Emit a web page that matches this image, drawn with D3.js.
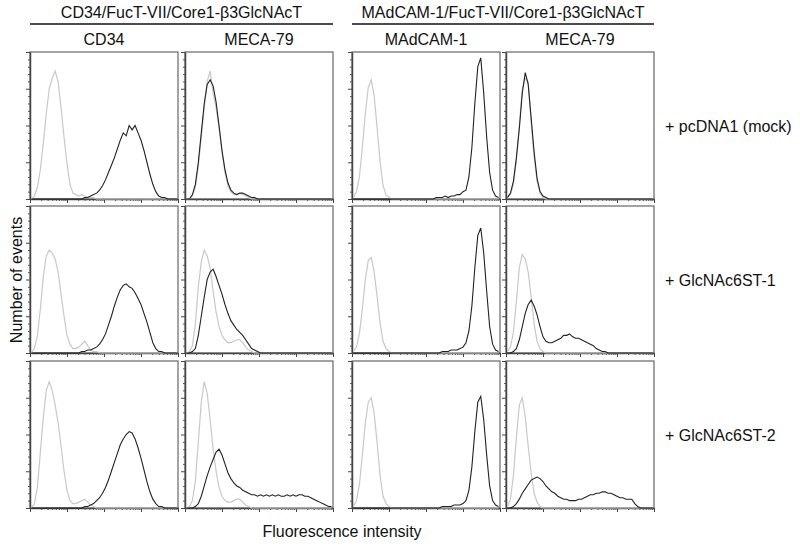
<!DOCTYPE html>
<html>
<head>
<meta charset="utf-8">
<script src="https://cdn.jsdelivr.net/npm/d3@7"></script>
<style>
body { margin: 0; background: #fff; }
text { font-family: "Liberation Sans", Arial, sans-serif; fill: #111; }
</style>
</head>
<body>
<div id="chart"></div>
<script>
var width = 800;
var height = 546;

// labels
var groups = ["CD34/FucT-VII/Core1-β3GlcNAcT", "MAdCAM-1/FucT-VII/Core1-β3GlcNAcT"];
var antibodies = ["CD34", "MECA-79", "MAdCAM-1", "MECA-79"];
var transfections = ["+ pcDNA1 (mock)", "+ GlcNAc6ST-1", "+ GlcNAc6ST-2"];
var yLabel = "Number of events";
var xLabel = "Fluorescence intensity";

// y ticks (percent of max count), x decades
var yMajor = [0, 25, 50, 75, 100];
var decades = [1, 10, 100, 1000, 10000];

// histograms: 50 channels over 4 log decades, % of panel height
// row 1: pcDNA1 (mock)
var ctrl_mock_cd34 = [0,2,8,20,38,58,75,82,87,80,62,42,24,10,4,3,2,3,2,1,1,1,0,0,0,0,0,0,0,0,0,0,0,0,0,0,0,0,0,0,0,0,0,0,0,0,0,0,0,0];
var stain_mock_cd34 = [0,0,0,0,0,0,0,0,0,0,0,0,0,0,0,0,0,0,1,1,2,3,4,6,9,13,18,23,28,34,40,45,43,50,47,50,45,40,33,25,17,10,5,2,1,1,0,0,0,0];
var ctrl_mock_meca1 = [0,0,2,8,22,42,62,80,87,72,62,48,32,18,9,5,3,3,4,3,2,1,0,0,0,0,0,0,0,0,0,0,0,0,0,0,0,0,0,0,0,0,0,0,0,0,0,0,0,0];
var stain_mock_meca1 = [0,0,3,10,25,45,65,78,81,77,66,50,33,20,11,6,4,3,4,4,3,2,1,1,0,0,0,0,0,0,0,0,0,0,0,0,0,0,0,0,0,0,0,0,0,0,0,0,0,0];
var ctrl_mock_madcam = [1,5,15,35,58,76,81,70,48,25,9,3,1,0,0,0,0,0,0,0,0,0,0,0,0,0,0,0,0,0,0,0,0,0,0,0,0,0,0,0,0,0,0,0,0,0,0,0,0,0];
var stain_mock_madcam = [0,0,0,0,0,0,0,0,0,0,0,0,0,0,0,0,0,0,0,0,0,0,0,0,0,0,0,0,1,1,1,2,1,2,2,3,3,5,6,15,35,65,90,96,72,42,18,6,2,1];
var ctrl_mock_meca2 = [1,3,10,26,50,75,82,80,52,28,12,4,1,0,0,0,0,0,0,0,0,0,0,0,0,0,0,0,0,0,0,0,0,0,0,0,0,0,0,0,0,0,0,0,0,0,0,0,0,0];
var stain_mock_meca2 = [1,4,12,28,48,72,86,78,55,32,14,5,2,1,0,0,0,0,0,0,0,0,0,0,0,0,0,0,0,0,0,0,0,0,0,0,0,0,0,0,0,0,0,0,0,0,0,0,0,0];
// row 2: GlcNAc6ST-1
var ctrl_st1_cd34 = [0,3,12,30,52,66,70,68,64,55,40,25,12,6,3,3,4,6,8,5,2,1,1,0,0,0,0,0,0,0,0,0,0,0,0,0,0,0,0,0,0,0,0,0,0,0,0,0,0,0];
var stain_st1_cd34 = [0,0,0,0,0,0,0,0,0,0,0,0,0,0,0,0,0,1,1,2,2,3,4,6,9,13,19,25,32,38,43,46,47,45,44,41,37,33,27,21,14,7,3,1,1,0,0,0,0,0];
var ctrl_st1_meca1 = [0,1,5,20,45,62,70,66,58,42,28,18,12,9,7,7,8,9,9,7,4,2,1,0,0,0,0,0,0,0,0,0,0,0,0,0,0,0,0,0,0,0,0,0,0,0,0,0,0,0];
var stain_st1_meca1 = [0,0,1,3,12,25,38,50,55,57,52,46,40,33,27,22,19,16,14,12,9,6,3,2,1,0,0,0,0,0,0,0,0,0,0,0,0,0,0,0,0,0,0,0,0,0,0,0,0,0];
var ctrl_st1_madcam = [1,4,13,30,50,63,65,55,38,20,8,3,1,0,0,0,0,0,0,0,0,0,0,0,0,0,0,0,0,0,0,0,0,0,0,0,0,0,0,0,0,0,0,0,0,0,0,0,0,0];
var stain_st1_madcam = [0,0,0,0,0,0,0,0,0,0,0,0,0,0,0,0,0,0,0,0,0,0,0,0,0,0,0,0,0,0,1,1,1,2,2,2,3,4,7,15,32,58,80,85,68,42,18,6,2,1];
var ctrl_st1_meca2 = [1,4,14,35,58,67,64,55,38,20,8,3,1,0,0,0,0,0,0,0,0,0,0,0,0,0,0,0,0,0,0,0,0,0,0,0,0,0,0,0,0,0,0,0,0,0,0,0,0,0];
var stain_st1_meca2 = [0,0,1,3,9,18,27,33,36,32,26,18,11,8,7,7,8,9,10,12,12,13,11,10,10,9,8,7,6,5,3,2,1,1,0,0,0,0,0,0,0,0,0,0,0,0,0,0,0,0];
// row 3: GlcNAc6ST-2
var ctrl_st2_cd34 = [0,3,14,38,62,80,86,80,70,58,42,25,12,5,3,3,4,5,6,4,2,1,0,0,0,0,0,0,0,0,0,0,0,0,0,0,0,0,0,0,0,0,0,0,0,0,0,0,0,0];
var stain_st2_cd34 = [0,0,0,0,0,0,0,0,0,0,0,0,0,0,0,0,0,0,1,1,2,3,5,7,10,14,19,25,31,37,43,47,50,52,51,47,41,34,26,18,11,6,3,1,1,0,0,0,0,0];
var ctrl_st2_meca1 = [0,1,5,18,45,72,86,78,60,40,25,14,8,5,4,4,5,6,6,4,2,1,0,0,0,0,0,0,0,0,0,0,0,0,0,0,0,0,0,0,0,0,0,0,0,0,0,0,0,0];
var stain_st2_meca1 = [0,0,0,1,3,8,15,22,28,33,38,40,36,30,24,20,17,15,14,12,11,10,9,9,8,9,8,9,8,9,8,9,8,8,9,8,9,8,9,9,8,8,7,6,5,4,3,2,1,1];
var ctrl_st2_madcam = [1,5,16,36,58,72,75,64,44,22,8,3,1,0,0,0,0,0,0,0,0,0,0,0,0,0,0,0,0,0,0,0,0,0,0,0,0,0,0,0,0,0,0,0,0,0,0,0,0,0];
var stain_st2_madcam = [0,0,0,0,0,0,0,0,0,0,0,0,0,0,0,0,0,0,0,0,0,0,0,0,0,0,0,0,0,0,1,1,1,1,2,2,2,3,5,12,28,52,72,76,60,36,15,5,2,1];
var ctrl_st2_meca2 = [1,6,22,48,70,75,62,42,24,10,4,1,0,0,0,0,0,0,0,0,0,0,0,0,0,0,0,0,0,0,0,0,0,0,0,0,0,0,0,0,0,0,0,0,0,0,0,0,0,0];
var stain_st2_meca2 = [0,0,1,3,6,10,13,16,19,20,21,20,18,15,13,11,10,8,7,6,6,5,5,5,6,6,7,8,9,9,10,10,11,11,10,10,9,8,7,7,6,6,6,3,1,0,0,0,0,0];

var panels = [
    [[ctrl_mock_cd34, stain_mock_cd34], [ctrl_mock_meca1, stain_mock_meca1], [ctrl_mock_madcam, stain_mock_madcam], [ctrl_mock_meca2, stain_mock_meca2]],
    [[ctrl_st1_cd34, stain_st1_cd34], [ctrl_st1_meca1, stain_st1_meca1], [ctrl_st1_madcam, stain_st1_madcam], [ctrl_st1_meca2, stain_st1_meca2]],
    [[ctrl_st2_cd34, stain_st2_cd34], [ctrl_st2_meca1, stain_st2_meca1], [ctrl_st2_madcam, stain_st2_madcam], [ctrl_st2_meca2, stain_st2_meca2]]
];

var colX = [30, 185, 352, 506];
var rowY = [52, 206, 361];
var pw = 148, ph = 147;

var svg = d3.select("#chart")
    .append("svg")
    .attr("width", width)
    .attr("height", height);

var x = d3.scaleLog().domain([1, 10000]).range([0, pw]);
var y = d3.scaleLinear().domain([0, 100]).range([ph, 0]);

var nBins = 50;
function binValue(i){ return Math.pow(10, 4 * (i + 0.5) / nBins); }

var line = d3.line()
    .x(function(d, i){ return x(binValue(i)); })
    .y(function(d){ return y(d); });

// minor x ticks 2..9 per decade
var xMinor = [];
decades.slice(0, 4).forEach(function(d){
    for (var k = 2; k < 10; k++) xMinor.push(d * k);
});
var yMinor = d3.range(0, 101, 5).filter(function(v){ return yMajor.indexOf(v) < 0; });

// group headers
[[0, 1], [2, 3]].forEach(function(pair, gi){
    var x0 = colX[pair[0]], x1 = colX[pair[1]] + pw;
    svg.append("text")
        .attr("x", (x0 + x1) / 2)
        .attr("y", 18)
        .attr("text-anchor", "middle")
        .style("font-size", "16px")
        .text(groups[gi]);
    svg.append("line")
        .attr("x1", x0).attr("x2", x1)
        .attr("y1", 24).attr("y2", 24)
        .attr("stroke", "#111")
        .attr("stroke-width", 1.5);
});

antibodies.forEach(function(a, ci){
    svg.append("text")
        .attr("x", colX[ci] + pw / 2)
        .attr("y", 45)
        .attr("text-anchor", "middle")
        .style("font-size", "16px")
        .text(a);
});

transfections.forEach(function(t, ri){
    svg.append("text")
        .attr("x", 665)
        .attr("y", rowY[ri] + ph / 2 + 6)
        .style("font-size", "16px")
        .text(t);
});

svg.append("text")
    .attr("transform", "translate(22," + (rowY[0] + (rowY[2] + ph - rowY[0]) / 2) + ") rotate(-90)")
    .attr("text-anchor", "middle")
    .style("font-size", "16px")
    .text(yLabel);

svg.append("text")
    .attr("x", (colX[0] + colX[3] + pw) / 2)
    .attr("y", 537)
    .attr("text-anchor", "middle")
    .style("font-size", "16px")
    .text(xLabel);

panels.forEach(function(row, ri){
    row.forEach(function(pair, ci){
        var g = svg.append("g")
            .attr("transform", "translate(" + colX[ci] + "," + rowY[ri] + ")");

        g.append("rect")
            .attr("width", pw).attr("height", ph)
            .attr("fill", "none")
            .attr("stroke", "#666")
            .attr("stroke-width", 1.2);

        // y axis
        g.append("g")
            .call(d3.axisLeft(y).tickValues(yMinor).tickSize(2).tickFormat("").tickSizeOuter(0))
            .call(function(s){ s.select(".domain").attr("stroke", "#444").attr("stroke-width", 1.5); s.selectAll("line").attr("stroke", "#555"); });
        g.append("g")
            .call(d3.axisLeft(y).tickValues(yMajor).tickSize(4).tickFormat("").tickSizeOuter(0))
            .call(function(s){ s.select(".domain").remove(); s.selectAll("line").attr("stroke", "#444"); });

        // x axis
        g.append("g")
            .attr("transform", "translate(0," + ph + ")")
            .call(d3.axisBottom(x).tickValues(xMinor).tickSize(2).tickFormat("").tickSizeOuter(0))
            .call(function(s){ s.select(".domain").attr("stroke", "#444").attr("stroke-width", 1.5); s.selectAll("line").attr("stroke", "#555"); });
        g.append("g")
            .attr("transform", "translate(0," + ph + ")")
            .call(d3.axisBottom(x).tickValues(decades).tickSize(4).tickFormat("").tickSizeOuter(0))
            .call(function(s){ s.select(".domain").remove(); s.selectAll("line").attr("stroke", "#444"); });

        g.append("path")
            .datum(pair[0])
            .attr("d", line)
            .attr("fill", "none")
            .attr("stroke", "#c8c8c8")
            .attr("stroke-width", 1.2);

        g.append("path")
            .datum(pair[1])
            .attr("d", line)
            .attr("fill", "none")
            .attr("stroke", "#222")
            .attr("stroke-width", 1.1);
    });
});
</script>
</body>
</html>
